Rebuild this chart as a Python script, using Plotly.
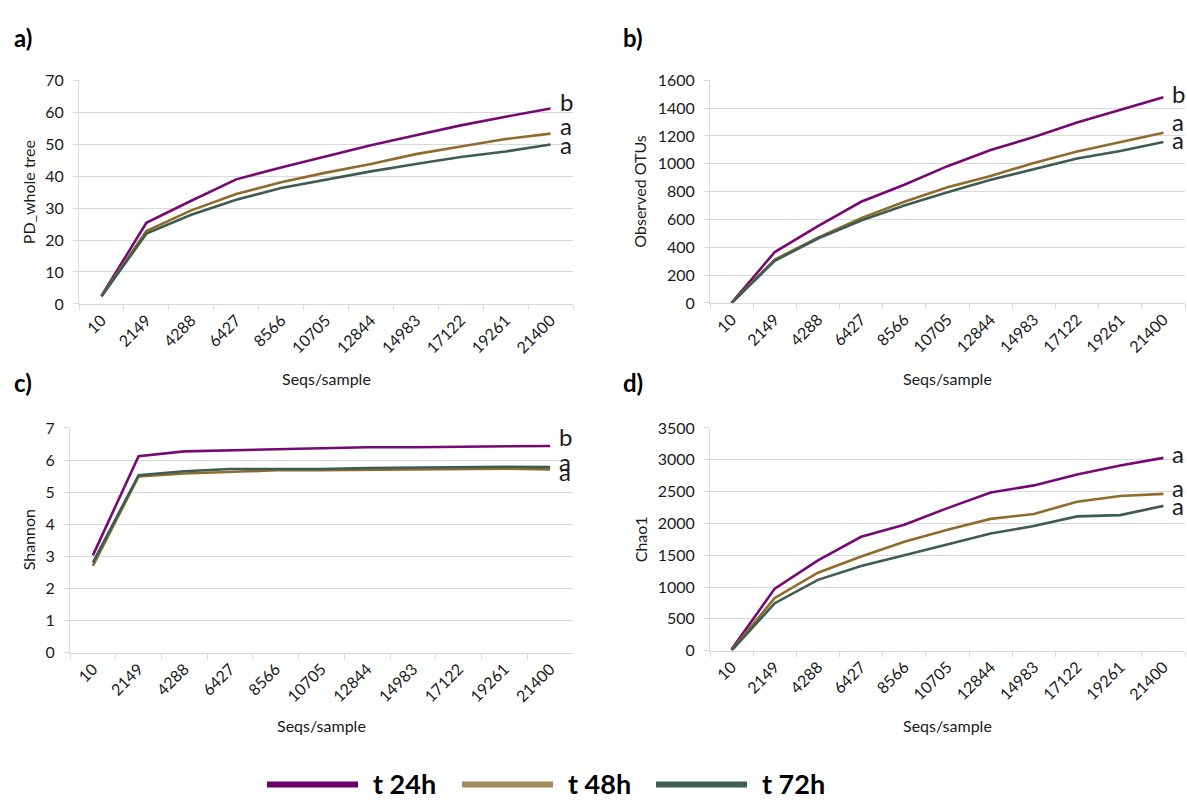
import plotly.graph_objects as go

# ---------------- data ----------------
seqs = ["10", "2149", "4288", "6427", "8566", "10705", "12844", "14983", "17122", "19261", "21400"]
series_names = ["t 24h", "t 48h", "t 72h"]

pd_24 = [2.5, 25.4, 32.3, 39.0, 42.7, 46.3, 49.7, 52.8, 55.9, 58.6, 61.2]
pd_48 = [2.5, 22.8, 29.3, 34.4, 38.1, 41.1, 43.8, 46.9, 49.3, 51.6, 53.3]
pd_72 = [2.3, 22.0, 27.9, 32.6, 36.3, 38.9, 41.5, 43.8, 46.0, 47.7, 49.9]

otu_24 = [0, 366, 552, 727, 850, 983, 1099, 1192, 1297, 1390, 1478]
otu_48 = [0, 312, 470, 610, 727, 831, 913, 1006, 1088, 1157, 1223]
otu_72 = [0, 303, 463, 592, 700, 796, 885, 962, 1038, 1092, 1157]

sh_24 = [3.03, 6.12, 6.27, 6.30, 6.33, 6.36, 6.40, 6.40, 6.41, 6.44, 6.44]
sh_48 = [2.70, 5.49, 5.58, 5.62, 5.68, 5.68, 5.69, 5.72, 5.73, 5.73, 5.71]
sh_72 = [2.80, 5.53, 5.65, 5.72, 5.72, 5.72, 5.75, 5.76, 5.79, 5.79, 5.78]

chao_24 = [20, 975, 1418, 1790, 1980, 2240, 2485, 2597, 2770, 2910, 3030]
chao_48 = [10, 827, 1224, 1480, 1710, 1900, 2071, 2148, 2340, 2430, 2464]
chao_72 = [0, 745, 1112, 1330, 1500, 1670, 1840, 1960, 2110, 2130, 2275]

panels = [
    # key, y title, series, significance letters, y max, dtick
    ("a", "PD_whole tree", [pd_24, pd_48, pd_72], ["b", "a", "a"], 70, 10),
    ("b", "Observed OTUs", [otu_24, otu_48, otu_72], ["b", "a", "a"], 1600, 200),
    ("c", "Shannon", [sh_24, sh_48, sh_72], ["b", "a", "a"], 7, 1),
    ("d", "Chao1", [chao_24, chao_48, chao_72], ["a", "a", "a"], 3500, 500),
]

line_colors = ["#760A73", "#8E6D2C", "#3D5D52"]
legend_colors = ["#6C0068", "#A38B5C", "#3F5E52"]

# ---------------- layout geometry ----------------
W, H = 1187, 810
def px(x):
    return x / W
def py(y):
    return 1 - y / H

geom = {
    "a": dict(x0=79, x1=573, y0=72, y1=301),
    "b": dict(x0=710, x1=1185, y0=72, y1=300),
    "c": dict(x0=70, x1=573, y0=428, y1=658),
    "d": dict(x0=710, x1=1185, y0=428, y1=656),
}
# letter vertical offsets (pixels, + = up) per panel
letter_shift = {
    "a": [7, 8, 0],
    "b": [4, 11, 2],
    "c": [9, 8, -4],
    "d": [4, 6, 0],
}
FONT = "Lato, Carlito, 'Open Sans', sans-serif"
TXT = "#1a1a1a"
GRID = "#D9D9D9"

fig = go.Figure()
annotations = []
layout_axes = {}

for i, (key, ytitle, sers, letters, ymax, dtick) in enumerate(panels):
    g = geom[key]
    n = i + 1
    xa = "xaxis" if n == 1 else f"xaxis{n}"
    ya = "yaxis" if n == 1 else f"yaxis{n}"
    xref = "x" if n == 1 else f"x{n}"
    yref = "y" if n == 1 else f"y{n}"
    for s, vals in enumerate(sers):
        fig.add_trace(go.Scatter(
            x=seqs, y=vals, mode="lines", name=series_names[s],
            line=dict(color=line_colors[s], width=2.6),
            xaxis=xref, yaxis=yref, showlegend=False, hoverinfo="skip"))
        annotations.append(dict(
            x=len(seqs) - 1, y=vals[-1], xref=xref, yref=yref, text=letters[s],
            showarrow=False, xanchor="left", yanchor="middle", borderpad=0,
            xshift=8, yshift=letter_shift[key][s],
            font=dict(family=FONT, size=24, color=TXT)))
    layout_axes[xa] = dict(
        domain=[px(g["x0"]), px(g["x1"])], anchor=yref, type="category",
        range=[-0.5, len(seqs) - 0.5], tickangle=-45, tickson="boundaries",
        ticks="outside", ticklen=5, tickcolor=GRID, showline=True, linecolor=GRID,
        linewidth=1, showgrid=False, zeroline=False, fixedrange=True,
        tickfont=dict(family=FONT, size=16, color=TXT))
    layout_axes[ya] = dict(
        domain=[py(g["y1"]), py(g["y0"])], anchor=xref, range=[0, ymax], dtick=dtick,
        ticks="outside", ticklen=5, tickcolor=GRID, showline=True, linecolor=GRID,
        linewidth=1, showgrid=True, gridcolor=GRID, gridwidth=1, zeroline=False,
        ticklabelstandoff=6, fixedrange=True,
        tickfont=dict(family=FONT, size=16, color=TXT))
    # panel label
    annotations.append(dict(
        x=px(12 if key in "ac" else 621), y=py(28 if key in "ab" else 381),
        xref="paper", yref="paper", text=f"<b>{key})</b>", showarrow=False,
        xanchor="left", yanchor="middle",
        font=dict(family=FONT, size=24, color="#000000")))
    # axis titles
    annotations.append(dict(
        x=px((g["x0"] + g["x1"]) / 2), y=py(377 if key in "ab" else 733),
        xref="paper", yref="paper", text="Seqs/sample", showarrow=False,
        xanchor="center", yanchor="middle",
        font=dict(family=FONT, size=16, color=TXT)))
    annotations.append(dict(
        x=px(28 if key in "ac" else 640), y=py((g["y0"] + g["y1"]) / 2),
        xref="paper", yref="paper", text=ytitle, showarrow=False, textangle=-90,
        xanchor="center", yanchor="middle",
        font=dict(family=FONT, size=16, color=TXT)))

# ---------------- legend (bottom) ----------------
shapes = []
leg_start = [267, 462, 656]
for s, name in enumerate(series_names):
    x0 = leg_start[s]
    shapes.append(dict(type="line", xref="paper", yref="paper",
                       x0=px(x0), x1=px(x0 + 91), y0=py(793), y1=py(793),
                       line=dict(color=legend_colors[s], width=6)))
    annotations.append(dict(
        x=px(x0 + 104), y=py(792), xref="paper", yref="paper",
        text=f"<b>{name}</b>", showarrow=False, xanchor="left", yanchor="middle",
        font=dict(family=FONT, size=27, color="#000000")))

fig.update_layout(
    width=W, height=H, margin=dict(l=0, r=0, t=0, b=0),
    paper_bgcolor="white", plot_bgcolor="white", hovermode=False,
    annotations=annotations, shapes=shapes, showlegend=False,
    **layout_axes)

css_fix = (
    "var st=document.createElement('style');"
    "st.innerHTML='html,body{margin:0!important;padding:0!important;overflow:hidden!important;}';"
    "document.head.appendChild(st);"
    "document.documentElement.style.margin='0px';"
    "document.body.style.margin='0px';"
)
fig.write_html("out.html", config={"displayModeBar": False, "staticPlot": False},
               post_script=css_fix)
